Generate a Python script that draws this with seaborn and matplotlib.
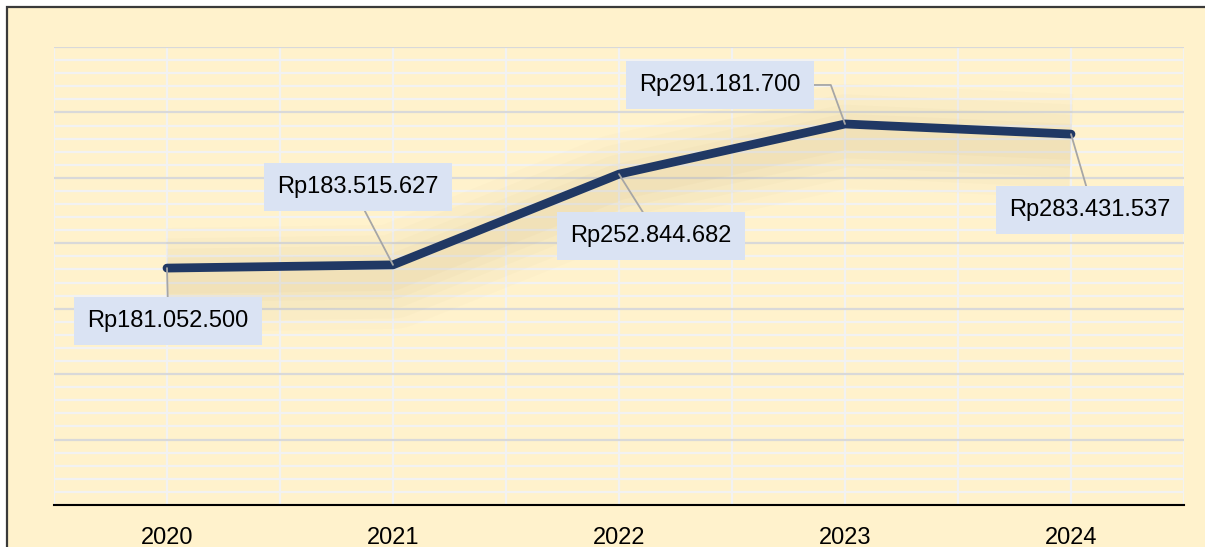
import numpy as np
import seaborn as sns
import matplotlib.pyplot as plt
from matplotlib.patches import Rectangle
from matplotlib.ticker import MultipleLocator, NullFormatter
from matplotlib.transforms import offset_copy

years = ["2020", "2021", "2022", "2023", "2024"]
values = [181052500, 183515627, 252844682, 291181700, 283431537]
labels = ["Rp181.052.500", "Rp183.515.627", "Rp252.844.682", "Rp291.181.700", "Rp283.431.537"]

sns.set_style("white")
plt.rcParams['font.family'] = ['Liberation Sans', 'DejaVu Sans']

bg = '#FFF2CC'
fig = plt.figure(figsize=(12.05, 5.47), dpi=100, facecolor='white')

# panel behind the chart with a dark frame on the left/top
frame = Rectangle((7 / 1205, -0.1), 1.2, 1.1 - 7 / 547, transform=fig.transFigure,
                  facecolor=bg, edgecolor='#3a3a3a', linewidth=1.6, zorder=-10)
fig.patches.append(frame)

ax = fig.add_axes([54 / 1205, 42 / 547, 1130 / 1205, 458 / 547])
ax.set_facecolor(bg)

x = np.arange(len(years))

# soft blurred shadow under the line
for lw, a in [(75, 0.025), (60, 0.03), (45, 0.035), (32, 0.04), (20, 0.045)]:
    sh = offset_copy(ax.transData, fig=fig, x=0, y=-12, units='dots')
    sns.lineplot(x=x, y=values, ax=ax, color='#B39A5C', linewidth=lw, alpha=a,
                 transform=sh, solid_capstyle='butt', solid_joinstyle='round', zorder=2)

sns.lineplot(x=x, y=values, ax=ax, color='#203864', linewidth=6.3,
             solid_capstyle='round', solid_joinstyle='round', zorder=4)

ax.set_xlim(-0.5, 4.5)
ax.set_ylim(0, 350e6)
ax.set_xticks(x)
ax.set_xticklabels(years, fontsize=17, color='black')
ax.xaxis.set_minor_locator(MultipleLocator(0.5))
ax.yaxis.set_major_locator(MultipleLocator(50e6))
ax.yaxis.set_minor_locator(MultipleLocator(10e6))
ax.yaxis.set_major_formatter(NullFormatter())
ax.tick_params(axis='both', which='both', length=0)
ax.tick_params(axis='x', pad=16)

ax.set_axisbelow(True)
ax.grid(True, which='minor', color='#F2F2F2', linewidth=1.6)
ax.grid(True, which='major', axis='x', color='#F2F2F2', linewidth=1.6)
ax.grid(True, which='major', axis='y', color='#D9D9D9', linewidth=1.6)

for s in ['top', 'right', 'left']:
    ax.spines[s].set_visible(False)
ax.spines['bottom'].set_color('black')
ax.spines['bottom'].set_linewidth(1.5)
ax.set_xlabel('')
ax.set_ylabel('')

# data labels with leader lines
offsets = [(1, -53), (-35, 78), (32, -62), (-125, 39), (19, -76)]
relpos = [(0.5, 1), (0.5, 0), (0.5, 1), (1, 0.5), (0.5, 1)]
conn = ['arc3', 'arc3', 'arc3', 'angle,angleA=0,angleB=110,rad=0', 'arc3']
for i in range(len(years)):
    ax.annotate(labels[i], xy=(x[i], values[i]), xytext=offsets[i],
                textcoords='offset pixels', ha='center', va='center',
                fontsize=17, color='black', zorder=6,
                bbox=dict(boxstyle='square,pad=0.55', fc='#DAE3F3', ec='none'),
                arrowprops=dict(arrowstyle='-', color='#A6A6A6', lw=1.3,
                                shrinkA=0, shrinkB=0, relpos=relpos[i],
                                connectionstyle=conn[i]))

fig.savefig('out.png', dpi=100, facecolor='white')
